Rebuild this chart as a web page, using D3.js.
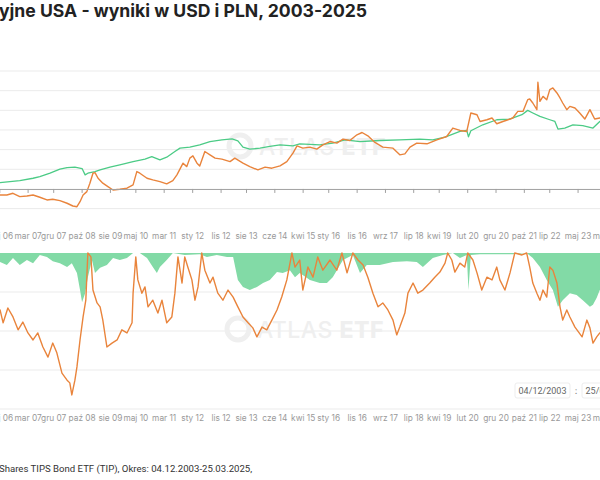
<!DOCTYPE html>
<html>
<head>
<meta charset="utf-8">
<script src="https://cdn.jsdelivr.net/npm/d3@7"></script>
<style>
  body { margin: 0; background: #fff; }
  svg { display: block; font-family: Inter, "Noto Sans", sans-serif; }
</style>
</head>
<body>
<svg id="chart" width="600" height="480"></svg>
<script>
// values, dates as decimal years
const usdYears = [2003.92, 2004.30, 2004.70, 2005.20, 2005.70, 2006.10, 2006.39, 2006.97, 2007.36, 2007.56, 2007.86, 2008.15, 2008.36, 2008.59, 2008.80, 2008.89, 2008.97, 2009.18, 2009.33, 2009.62, 2009.91, 2010.30, 2010.65, 2010.85, 2011.09, 2011.29, 2011.53, 2011.68, 2011.97, 2012.26, 2012.56, 2012.91, 2013.21, 2013.38, 2013.53, 2013.73, 2014.03, 2014.32, 2014.62, 2015.00, 2015.20, 2015.79, 2016.17, 2016.53, 2016.97, 2017.55, 2018.14, 2018.73, 2019.11, 2019.47, 2019.91, 2020.11, 2020.16, 2020.23, 2020.58, 2020.99, 2021.37, 2021.73, 2021.90, 2022.05, 2022.26, 2022.55, 2022.70, 2022.79, 2022.99, 2023.23, 2023.52, 2023.82, 2024.02, 2024.46, 2024.90, 2025.23];
const usdReturn = [0, -1, 2, 4, 4, 5, 8.0, 10.6, 13.6, 15.7, 20.0, 25.1, 27.2, 27.7, 25.9, 17.9, 20.0, 22.1, 24.2, 27.7, 30.6, 34.8, 37.9, 41.2, 37.0, 40.4, 47.6, 51.9, 53.2, 56.1, 60.3, 62.5, 63.8, 61.2, 53.2, 50.6, 51.9, 54.0, 56.1, 54.8, 57.4, 56.1, 58.3, 62.5, 60.3, 61.6, 62.5, 63.4, 62.5, 65.9, 73.1, 74.4, 66.3, 74.0, 81.6, 88.0, 88.9, 94.4, 99.9, 96.6, 92.2, 88.0, 85.8, 76.1, 77.4, 81.6, 80.4, 77.4, 85.8, 84, 88, 87];

const plnYears = [2003.92, 2004.10, 2004.35, 2004.60, 2004.90, 2005.20, 2005.50, 2005.80, 2006.10, 2006.39, 2006.59, 2006.77, 2006.97, 2007.18, 2007.36, 2007.56, 2007.77, 2007.94, 2008.15, 2008.36, 2008.53, 2008.65, 2008.74, 2008.83, 2008.94, 2009.03, 2009.12, 2009.18, 2009.27, 2009.41, 2009.56, 2009.71, 2009.91, 2010.12, 2010.30, 2010.41, 2010.50, 2010.71, 2010.88, 2011.09, 2011.29, 2011.47, 2011.59, 2011.77, 2011.88, 2011.97, 2012.06, 2012.18, 2012.26, 2012.41, 2012.56, 2012.71, 2012.91, 2013.15, 2013.29, 2013.53, 2013.73, 2013.97, 2014.18, 2014.38, 2014.62, 2014.82, 2015.00, 2015.12, 2015.29, 2015.50, 2015.70, 2015.88, 2016.09, 2016.29, 2016.47, 2016.67, 2016.88, 2017.03, 2017.20, 2017.41, 2017.64, 2017.94, 2018.14, 2018.29, 2018.44, 2018.64, 2018.94, 2019.23, 2019.52, 2019.70, 2019.91, 2020.11, 2020.23, 2020.41, 2020.50, 2020.70, 2020.85, 2020.99, 2021.17, 2021.32, 2021.46, 2021.61, 2021.76, 2021.90, 2021.96, 2022.05, 2022.17, 2022.20, 2022.26, 2022.35, 2022.46, 2022.55, 2022.64, 2022.76, 2022.85, 2022.93, 2023.05, 2023.14, 2023.29, 2023.43, 2023.58, 2023.73, 2023.87, 2024.02, 2024.30, 2024.60, 2024.90, 2025.10, 2025.23];
const plnReturn = [0, 2, 5, 0, -10, -8, -3, -5, -9, -7.7, -7.7, -5.5, -9.8, -8.9, -7.7, -10.6, -14.0, -13.1, -14.9, -18.2, -21.7, -22.6, -16.2, -7.7, -3.4, 7.3, 20.0, 20.8, 13.6, 7.3, 2.9, -1.3, -0.4, 0.9, 5.1, 22.1, 20.0, 13.6, 11.5, 9.3, 6.4, 10.6, 17.9, 32.8, 28.4, 39.2, 42.1, 32.8, 29.3, 47.6, 43.4, 39.2, 37.9, 34.8, 39.2, 32.8, 28.4, 24.2, 27.7, 26.4, 29.3, 34.8, 45.5, 54.8, 51.9, 53.2, 50.6, 56.1, 60.3, 58.3, 63.4, 61.6, 68.9, 71.8, 67.6, 59.1, 53.2, 51.9, 43.4, 44.6, 53.2, 58.3, 57.4, 62.5, 66.7, 77.4, 74.4, 73.1, 96.6, 94.4, 85.8, 88.0, 90.2, 82.9, 85.8, 88.0, 90.2, 98.6, 98.6, 113.5, 114.4, 109.3, 100.8, 135.6, 111.4, 117.7, 113.5, 126.3, 128.4, 122.1, 115.7, 109.3, 100.8, 105.0, 102.9, 96.6, 88.9, 100.8, 88.9, 90.2, 88, 85, 95, 92, 86];

const usdDdYears = [2003.92, 2004.20, 2004.35, 2004.60, 2004.90, 2005.20, 2005.50, 2005.80, 2006.10, 2006.39, 2006.59, 2006.77, 2006.97, 2007.18, 2007.36, 2007.56, 2007.77, 2007.94, 2008.15, 2008.36, 2008.50, 2008.65, 2008.74, 2008.80, 2008.89, 2008.97, 2009.09, 2009.18, 2009.33, 2009.53, 2009.71, 2009.91, 2010.12, 2010.30, 2010.50, 2010.71, 2010.88, 2011.00, 2011.09, 2011.29, 2011.47, 2011.82, 2012.26, 2012.47, 2012.76, 2013.06, 2013.24, 2013.38, 2013.53, 2013.73, 2013.94, 2014.12, 2014.32, 2014.53, 2014.70, 2014.91, 2015.06, 2015.20, 2015.50, 2015.79, 2016.00, 2016.17, 2016.47, 2016.76, 2016.97, 2017.17, 2017.55, 2017.94, 2018.35, 2018.64, 2018.82, 2019.11, 2019.41, 2019.70, 2019.91, 2020.11, 2020.16, 2020.23, 2020.50, 2021.08, 2021.46, 2021.87, 2022.05, 2022.26, 2022.46, 2022.64, 2022.79, 2022.93, 2023.14, 2023.34, 2023.52, 2023.73, 2023.82, 2023.93, 2024.02, 2024.30, 2024.60, 2024.90, 2025.23];
const usdDrawdown = [0, 0, -5, -3, 0, -2, 0, -2, -2, -2.3, -3.1, -1.3, -3.1, -1.8, -2.6, -0.5, -1.0, -2.1, -2.6, -3.6, -2.6, -5.1, -9.5, -12.6, -10.3, -6.2, -1.8, -5.1, -3.8, -3.1, -1.3, -1.8, -1.3, 0, 0, -1.3, -3.6, -5.1, -3.6, -1.8, 0, -0.5, -0.3, -1.0, -0.5, -1.0, -1.0, -6.9, -8.7, -9.5, -8.7, -7.7, -6.9, -4.9, -5.1, -4.4, -6.2, -5.1, -6.9, -7.7, -7.7, -6.2, -1.8, -0.5, -5.1, -3.1, -3.1, -2.3, -2.1, -2.3, -3.6, -1.3, -0.5, 0, -1.3, -0.5, -9.5, -0.5, -0.3, -0.3, -0.3, 0, -1.3, -3.6, -6.9, -9.5, -13.8, -12.1, -10.3, -10.8, -12.1, -13.8, -13.3, -11.5, -9.5, -10.5, -8, -7, -6];

const plnDdYears = [2003.92, 2004.10, 2004.35, 2004.60, 2004.90, 2005.20, 2005.50, 2005.80, 2006.10, 2006.39, 2006.48, 2006.62, 2006.77, 2006.92, 2007.06, 2007.21, 2007.36, 2007.50, 2007.65, 2007.80, 2007.94, 2008.06, 2008.21, 2008.36, 2008.44, 2008.50, 2008.59, 2008.65, 2008.74, 2008.83, 2008.91, 2008.97, 2009.06, 2009.12, 2009.24, 2009.33, 2009.41, 2009.53, 2009.68, 2009.83, 2009.97, 2010.12, 2010.27, 2010.30, 2010.38, 2010.44, 2010.56, 2010.65, 2010.74, 2010.88, 2011.03, 2011.15, 2011.29, 2011.44, 2011.53, 2011.62, 2011.74, 2011.82, 2011.91, 2012.03, 2012.12, 2012.21, 2012.32, 2012.41, 2012.56, 2012.65, 2012.79, 2012.94, 2013.09, 2013.24, 2013.38, 2013.53, 2013.68, 2013.82, 2013.94, 2014.09, 2014.23, 2014.38, 2014.53, 2014.67, 2014.82, 2014.97, 2015.06, 2015.20, 2015.29, 2015.44, 2015.59, 2015.73, 2015.88, 2016.09, 2016.29, 2016.44, 2016.59, 2016.76, 2016.91, 2017.06, 2017.20, 2017.35, 2017.50, 2017.64, 2017.79, 2017.94, 2018.05, 2018.14, 2018.29, 2018.38, 2018.53, 2018.67, 2018.82, 2019.02, 2019.17, 2019.32, 2019.47, 2019.55, 2019.67, 2019.76, 2019.91, 2020.05, 2020.14, 2020.29, 2020.41, 2020.55, 2020.70, 2020.85, 2020.99, 2021.08, 2021.23, 2021.38, 2021.52, 2021.73, 2021.87, 2021.96, 2022.05, 2022.17, 2022.26, 2022.35, 2022.46, 2022.55, 2022.64, 2022.76, 2022.85, 2022.93, 2023.05, 2023.14, 2023.29, 2023.50, 2023.64, 2023.73, 2023.82, 2023.93, 2024.02, 2024.30, 2024.60, 2024.90, 2025.10, 2025.23];
const plnDrawdown = [0, 0, 0, -5, -15, -12, -8, -10, -14, -14.6, -17.9, -14.1, -16.4, -19.7, -17.7, -20.5, -22.3, -20.5, -24.1, -26.7, -23.1, -25.6, -30.8, -32.6, -33.3, -36.4, -32.6, -29.2, -22.3, -16.4, -12.1, 0, -1.0, -9.5, -12.8, -13.8, -17.2, -24.1, -23.1, -22.3, -19.7, -20.5, -17.9, -10.3, -1.0, -6.9, -10.3, -8.7, -13.8, -12.1, -15.4, -12.1, -17.9, -16.4, -10.3, -1.0, -7.7, -1.0, -3.6, -6.9, -12.1, -8.7, 0, -4.4, -7.7, -6.2, -10.3, -12.1, -9.5, -11.3, -13.8, -16.4, -17.9, -19.2, -21.5, -19.0, -19.7, -17.2, -14.6, -11.3, -6.9, 0, -3.6, -1.8, -9.5, -3.6, -6.2, -1.0, -4.4, -1.8, -4.4, 0, -5.1, 0, -1.8, -3.1, -6.2, -10.3, -13.8, -12.8, -14.6, -17.2, -21.0, -19.0, -15.4, -10.3, -7.7, -10.3, -9.5, -7.7, -6.2, -4.9, -2.6, 0, -1.8, -4.9, -2.6, -3.6, 0, -1.8, -5.1, -9.5, -6.2, -6.9, -3.6, -6.9, -9.5, -5.1, 0, -0.5, 0, -3.6, -7.7, -10.3, -12.1, -9.5, -11.3, -3.6, -4.4, -7.7, -13.8, -17.2, -14.6, -16.4, -19.0, -21.5, -17.2, -19.2, -23.1, -21.5, -20.5, -20, -22, -17, -19, -22];

const tickDates = ["2006-05-15", "2007-03-15", "2007-12-15", "2008-10-15", "2009-08-15", "2010-05-15", "2011-03-15", "2012-01-15", "2012-11-15", "2013-08-15", "2014-06-15", "2015-04-15", "2016-01-15", "2016-11-15", "2017-09-15", "2018-07-15", "2019-04-15", "2020-02-15", "2020-12-15", "2021-10-15", "2022-07-15", "2023-05-15", "2024-03-15"];
const tickLabels = ["maj 06", "mar 07", "gru 07", "paź 08", "sie 09", "maj 10", "mar 11", "sty 12", "lis 12", "sie 13", "cze 14", "kwi 15", "sty 16", "lis 16", "wrz 17", "lip 18", "kwi 19", "lut 20", "gru 20", "paź 21", "lip 22", "maj 23", "mar 24"];
const topGrid = [-25, 25, 50, 75, 100, 125, 150];
const bottomGrid = [-40, -30, -20, -10];

const titleText = "yjne USA - wyniki w USD i PLN, 2003-2025";
const footerText = "Shares TIPS Bond ETF (TIP), Okres: 04.12.2003-25.03.2025,";
const dateFrom = "04/12/2003", dateTo = "25/03/2025";

const green = "#4ccb86", greenFill = "#82daa6", orange = "#e9843c";

// decimal year -> Date
const fromYear = t => {
  const y = Math.floor(t);
  const s = Date.UTC(y, 0, 1), e = Date.UTC(y + 1, 0, 1);
  return new Date(s + (t - y) * (e - s));
};
const pairs = (xs, ys) => xs.map((t, i) => ({ date: fromYear(t), v: ys[i] }));

const svg = d3.select('#chart');
svg.append('rect').attr('width', 600).attr('height', 480).attr('fill', '#fff');

// the plot runs past both edges of the picture
const x = d3.scaleUtc()
  .domain([fromYear(2003.92), fromYear(2025.23)])
  .range([-84, 641]);
const yTop = d3.scaleLinear().domain([-25, 150]).range([208.6, 71]);
const yBot = d3.scaleLinear().domain([-40, 0]).range([409, 253]);

const parseDay = d3.utcParse("%Y-%m-%d");
const ticks = tickDates.map(parseDay);

// grid lines
svg.append('g').selectAll('line').data(topGrid).enter().append('line')
  .attr('x1', 0).attr('x2', 600)
  .attr('y1', d => yTop(d)).attr('y2', d => yTop(d))
  .attr('stroke', '#ebebeb');
svg.append('g').selectAll('line').data(bottomGrid).enter().append('line')
  .attr('x1', 0).attr('x2', 600)
  .attr('y1', d => yBot(d)).attr('y2', d => yBot(d))
  .attr('stroke', '#ebebeb');

// watermark logos
const watermark = (cx, cy) => {
  const g = svg.append('g').attr('fill', '#efefef');
  g.append('circle').attr('cx', cx).attr('cy', cy).attr('r', 11)
    .attr('fill', 'none').attr('stroke', '#efefef').attr('stroke-width', 5);
  const t = g.append('text').attr('x', cx + 19).attr('y', cy + 9)
    .attr('font-size', 23).attr('letter-spacing', 0.5);
  t.append('tspan').attr('font-weight', 500).text('ATLAS ');
  t.append('tspan').attr('font-weight', 800).text('ETF');
};
watermark(240, 146);
watermark(238, 329);

// top chart: cumulative return
const lineTop = d3.line().x(d => x(d.date)).y(d => yTop(d.v));
svg.append('path').datum(pairs(usdYears, usdReturn))
  .attr('d', lineTop).attr('fill', 'none')
  .attr('stroke', green).attr('stroke-width', 1.3).attr('stroke-linejoin', 'round');
svg.append('path').datum(pairs(plnYears, plnReturn))
  .attr('d', lineTop).attr('fill', 'none')
  .attr('stroke', orange).attr('stroke-width', 1.4).attr('stroke-linejoin', 'round');

// zero axis of the top chart
svg.append('g')
  .attr('transform', `translate(0,${yTop(0)})`)
  .call(d3.axisBottom(x).tickValues(ticks).tickFormat('').tickSize(4).tickSizeOuter(0))
  .call(g => g.selectAll('line, path').attr('stroke', '#a0a0a0'));

// month labels
const labelAxis = (y) => svg.append('g')
  .attr('transform', `translate(0,${y})`)
  .call(d3.axisBottom(x).tickValues(ticks).tickFormat((d, i) => tickLabels[i]).tickSize(0).tickPadding(7))
  .call(g => g.select('.domain').remove())
  .call(g => g.selectAll('text').attr('fill', '#999').attr('font-size', 8.3)
    .attr('font-family', 'Inter, "Noto Sans", sans-serif'));
labelAxis(226);

// bottom chart: drawdown
const area = d3.area().x(d => x(d.date)).y0(yBot(0)).y1(d => yBot(d.v));
svg.append('path').datum(pairs(usdDdYears, usdDrawdown))
  .attr('d', area).attr('fill', greenFill);
svg.append('path').datum(pairs(plnDdYears, plnDrawdown))
  .attr('d', d3.line().x(d => x(d.date)).y(d => yBot(d.v)))
  .attr('fill', 'none').attr('stroke', orange).attr('stroke-width', 1.4)
  .attr('stroke-linejoin', 'round');

labelAxis(408);

// date range boxes
const boxes = [[515, dateFrom], [582, dateTo]];
boxes.forEach(([bx, txt]) => {
  svg.append('rect').attr('x', bx).attr('y', 383).attr('width', 55).attr('height', 15)
    .attr('rx', 2).attr('fill', '#fff').attr('stroke', '#ededed');
  svg.append('text').attr('x', bx + 27.5).attr('y', 393.5).attr('text-anchor', 'middle')
    .attr('font-family', 'Roboto, sans-serif')
    .attr('font-size', 9).attr('fill', '#666').text(txt);
});
svg.append('text').attr('x', 576).attr('y', 393.5).attr('text-anchor', 'middle')
  .attr('font-size', 9).attr('fill', '#888').text(':');

// title and source line
svg.append('text').attr('x', -1).attr('y', 17)
  .attr('font-size', 17.6).attr('font-weight', 700).attr('fill', '#222')
  .text(titleText);
svg.append('text').attr('x', -1).attr('y', 472)
  .attr('font-family', 'Roboto, sans-serif')
  .attr('font-size', 9.6).attr('fill', '#333')
  .text(footerText);
</script>
</body>
</html>
